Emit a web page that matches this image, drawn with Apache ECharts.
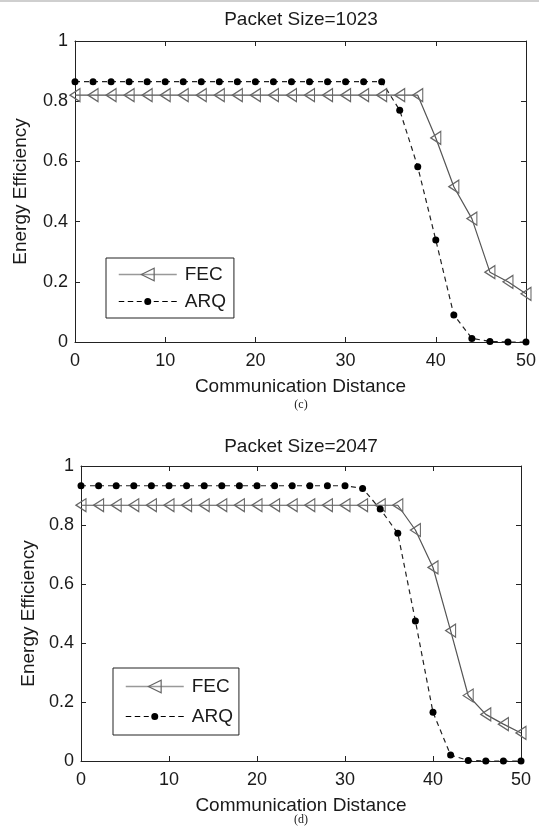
<!DOCTYPE html>
<html>
<head>
<meta charset="utf-8">
<script src="https://cdn.jsdelivr.net/npm/echarts@6/dist/echarts.min.js"></script>
<style>
html,body{margin:0;padding:0;background:#fff;}
#chart{width:539px;height:831px;}
</style>
</head>
<body>
<div id="chart"></div>
<script>
// ---- data ----
var distance = [0,2,4,6,8,10,12,14,16,18,20,22,24,26,28,30,32,34,36,38,40,42,44,46,48,50];
var fec1023 = [0.82,0.82,0.82,0.82,0.82,0.82,0.82,0.82,0.82,0.82,0.82,0.82,0.82,0.82,0.82,0.82,0.82,0.82,0.82,0.82,0.678,0.516,0.41,0.232,0.2,0.16];
var arq1023 = [0.865,0.865,0.865,0.865,0.865,0.865,0.865,0.865,0.865,0.865,0.865,0.865,0.865,0.865,0.865,0.865,0.865,0.865,0.77,0.582,0.339,0.09,0.012,0.002,0,0];
var fec2047 = [0.867,0.867,0.867,0.867,0.867,0.867,0.867,0.867,0.867,0.867,0.867,0.867,0.867,0.867,0.867,0.867,0.867,0.867,0.867,0.783,0.656,0.442,0.222,0.158,0.125,0.095];
var arq2047 = [0.933,0.933,0.933,0.933,0.933,0.933,0.933,0.933,0.933,0.933,0.933,0.933,0.933,0.933,0.933,0.933,0.924,0.854,0.772,0.475,0.165,0.02,0.002,0,0,0];
var titles = ['Packet Size=1023', 'Packet Size=2047'];
var panelTags = ['(c)', '(d)'];
var xTicks = {min: 0, max: 50, interval: 10};
var yTicks = {min: 0, max: 1, interval: 0.2};
var seriesNames = ['FEC', 'ARQ'];

function pairs(xs, ys){ return xs.map(function(x,i){ return [x, ys[i]]; }); }

var FONT = '"Liberation Sans", Arial, Helvetica, sans-serif';
var grids = [
  {left: 75, top: 41, width: 453, height: 301},
  {left: 81, top: 466, width: 440, height: 295}
];

var xAxes = [], yAxes = [], series = [];
grids.forEach(function(g, gi){
  var base = {
    gridIndex: gi, type: 'value', min: xTicks.min, max: xTicks.max, interval: xTicks.interval,
    axisLine: {show: true, onZero: false, lineStyle: {color: '#222', width: 1}},
    axisTick: {show: true, inside: true, length: 5, lineStyle: {color: '#222'}},
    splitLine: {show: false}
  };
  xAxes.push(Object.assign({}, base, {
    position: 'bottom',
    axisLabel: {show: true, color: '#1a1a1a', fontSize: 18, fontFamily: FONT, margin: 10},
    name: 'Communication Distance', nameLocation: 'middle', nameGap: 35,
    nameTextStyle: {color: '#1a1a1a', fontSize: 19, fontFamily: FONT}
  }));
  xAxes.push(Object.assign({}, base, {position: 'top', axisLabel: {show: false}}));
  var ybase = {
    gridIndex: gi, type: 'value', min: yTicks.min, max: yTicks.max, interval: yTicks.interval,
    axisLine: {show: true, onZero: false, lineStyle: {color: '#222', width: 1}},
    axisTick: {show: true, inside: true, length: 5, lineStyle: {color: '#222'}},
    splitLine: {show: false}
  };
  yAxes.push(Object.assign({}, ybase, {
    position: 'left',
    axisLabel: {show: true, color: '#1a1a1a', fontSize: 18, fontFamily: FONT, margin: 7},
    name: 'Energy Efficiency', nameLocation: 'middle', nameGap: gi === 0 ? 45 : 43,
    nameRotate: 90,
    nameTextStyle: {color: '#1a1a1a', fontSize: 19, fontFamily: FONT}
  }));
  yAxes.push(Object.assign({}, ybase, {position: 'right', axisLabel: {show: false}}));
});

var fecs = [fec1023, fec2047];
var arqs = [arq1023, arq2047];
for (var gi = 0; gi < 2; gi++) {
  series.push({
    name: seriesNames[0], type: 'line', xAxisIndex: gi * 2, yAxisIndex: gi * 2,
    data: pairs(distance, fecs[gi]), clip: false,
    symbol: 'path://M0,6 L10,0 L10,12 Z', symbolSize: [10, 13], showAllSymbol: true,
    lineStyle: {color: '#555', width: 1.2},
    itemStyle: {color: 'rgba(255,255,255,0)', borderColor: '#666', borderWidth: 1.2},
    emphasis: {disabled: true}, animation: false
  });
  series.push({
    name: seriesNames[1], type: 'line', xAxisIndex: gi * 2, yAxisIndex: gi * 2,
    data: pairs(distance, arqs[gi]), clip: false,
    symbol: 'circle', symbolSize: 7, showAllSymbol: true,
    lineStyle: {color: '#222', width: 1.2, type: [5, 4]},
    itemStyle: {color: '#000', borderColor: '#000', borderWidth: 0},
    emphasis: {disabled: true}, animation: false
  });
}

// dashed line with a small dot, drawn as a legend icon (58 x 7 box)
var arqIcon = 'path://M0,2.9 h5.5 v1.2 h-5.5 Z M9,2.9 h5.5 v1.2 h-5.5 Z M18,2.9 h5 v1.2 h-5 Z ' +
  'M25.5,3.5 A3.5,3.5 0 1,0 32.5,3.5 A3.5,3.5 0 1,0 25.5,3.5 Z ' +
  'M35,2.9 h5 v1.2 h-5 Z M43.5,2.9 h5.5 v1.2 h-5.5 Z M52.5,2.9 h5.5 v1.2 h-5.5 Z';

function legendFor(left, top, gap, padding) {
  return {
    show: true, orient: 'vertical', left: left, top: top,
    itemWidth: 58, itemHeight: 16, itemGap: gap,
    padding: padding, symbolKeepAspect: true,
    borderColor: '#222', borderWidth: 1, backgroundColor: '#fff',
    selectedMode: false,
    textStyle: {color: '#1a1a1a', fontSize: 19, fontFamily: FONT, padding: [0, 0, 0, 3]},
    data: [
      {name: seriesNames[0], lineStyle: {color: '#999', width: 1.5}, itemStyle: {color: 'rgba(255,255,255,0)', borderColor: '#666', borderWidth: 1.2}},
      {name: seriesNames[1], icon: arqIcon, itemStyle: {color: '#000', borderWidth: 0}}
    ]
  };
}

var graphics = [
  {type: 'rect', shape: {x: 0, y: 0, width: 539, height: 2}, style: {fill: '#cfcfcf'}, silent: true},
  {type: 'text', x: 301, y: 20, style: {text: titles[0], font: '19px ' + FONT, fill: '#1a1a1a', textAlign: 'center', textVerticalAlign: 'middle'}},
  {type: 'text', x: 301, y: 447, style: {text: titles[1], font: '19px ' + FONT, fill: '#1a1a1a', textAlign: 'center', textVerticalAlign: 'middle'}},
  {type: 'text', x: 301, y: 405, style: {text: panelTags[0], font: '12px "Liberation Serif", "Times New Roman", serif', fill: '#222', textAlign: 'center', textVerticalAlign: 'middle'}},
  {type: 'text', x: 301, y: 820, style: {text: panelTags[1], font: '12px "Liberation Serif", "Times New Roman", serif', fill: '#222', textAlign: 'center', textVerticalAlign: 'middle'}}
];

var chart = echarts.init(document.getElementById('chart'), null, {renderer: 'canvas'});
chart.setOption({
  animation: false,
  backgroundColor: '#fff',
  grid: grids,
  xAxis: xAxes,
  yAxis: yAxes,
  legend: [legendFor(106, 258, 8, [7, 8, 7, 12]), legendFor(113, 668, 11, [9, 6, 9, 12])],
  series: series,
  graphic: graphics
});
</script>
</body>
</html>
